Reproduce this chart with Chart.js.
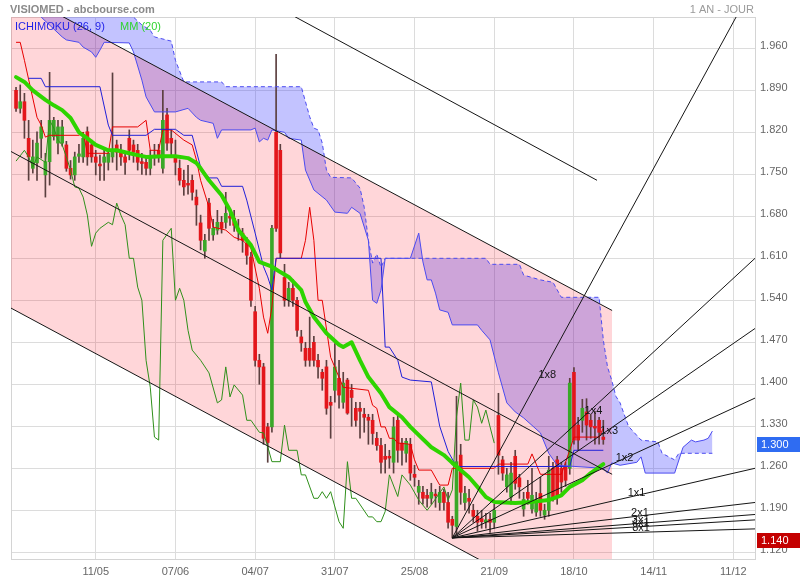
<!DOCTYPE html>
<html>
<head>
<meta charset="utf-8">
<title>VISIOMED - abcbourse.com</title>
<script src="https://cdn.jsdelivr.net/npm/chart.js@4.4.1/dist/chart.umd.min.js"></script>
<style>
  html, body { margin: 0; padding: 0; background: #fff; }
  #wrap { width: 800px; height: 580px; }
</style>
</head>
<body>
<div id="wrap"><canvas id="chart" width="800" height="580"></canvas></div>
<script>
// x unit = one trading day, bar 0 = 11/05
const FONT = '"Liberation Sans", Arial, sans-serif';
const X_MIN = -20.2;
const X_MAX = 157.16;
const Y_MIN = 1.1088;
const Y_MAX = 2.0122;
const FIRST_BAR = -19;

const xTickBars = [0, 19, 38, 57, 76, 95, 114, 133, 152];
const xTickLabels = ["11/05", "07/06", "04/07", "31/07", "25/08", "21/09", "18/10", "14/11", "11/12"];
const yTickValues = [1.12, 1.19, 1.26, 1.33, 1.40, 1.47, 1.54, 1.61, 1.68, 1.75, 1.82, 1.89, 1.96];

// daily candles, bar -19 .. 121
const opens = [
  1.890, 1.860, 1.871, 1.810, 1.760, 1.769, 1.810, 1.749, 1.771, 1.813,
  1.802, 1.802, 1.799, 1.760, 1.749, 1.780, 1.779, 1.821, 1.799, 1.779,
  1.767, 1.770, 1.770, 1.779, 1.799, 1.790, 1.779, 1.810, 1.799, 1.790,
  1.771, 1.770, 1.760, 1.778, 1.790, 1.760, 1.849, 1.810, 1.779, 1.760,
  1.740, 1.735, 1.740, 1.712, 1.669, 1.622, 1.702, 1.649, 1.657, 1.670,
  1.670, 1.680, 1.677, 1.660, 1.652, 1.635, 1.612, 1.521, 1.440, 1.429,
  1.329, 1.329, 1.820, 1.790, 1.578, 1.540, 1.560, 1.540, 1.479, 1.460,
  1.460, 1.470, 1.440, 1.420, 1.429, 1.370, 1.390, 1.410, 1.370, 1.407,
  1.390, 1.360, 1.360, 1.350, 1.345, 1.340, 1.310, 1.298, 1.280, 1.280,
  1.270, 1.340, 1.302, 1.285, 1.300, 1.250, 1.220, 1.220, 1.215, 1.210,
  1.217, 1.203, 1.220, 1.203, 1.175, 1.163, 1.282, 1.203, 1.210, 1.190,
  1.180, 1.176, 1.170, 1.175, 1.170, 1.348, 1.274, 1.229, 1.212, 1.280,
  1.244, 1.192, 1.220, 1.192, 1.187, 1.218, 1.182, 1.190, 1.260, 1.274,
  1.260, 1.262, 1.260, 1.420, 1.332, 1.340, 1.354, 1.340, 1.330, 1.340, 1.312,
];
const highs = [
  1.895, 1.899, 1.885, 1.840, 1.807, 1.821, 1.840, 1.785, 1.920, 1.845,
  1.840, 1.840, 1.805, 1.773, 1.787, 1.800, 1.820, 1.829, 1.807, 1.790,
  1.782, 1.790, 1.790, 1.919, 1.807, 1.800, 1.785, 1.824, 1.807, 1.800,
  1.785, 1.777, 1.790, 1.800, 1.800, 1.890, 1.860, 1.824, 1.807, 1.774,
  1.757, 1.765, 1.749, 1.724, 1.682, 1.650, 1.710, 1.675, 1.690, 1.680,
  1.720, 1.690, 1.690, 1.675, 1.660, 1.645, 1.620, 1.530, 1.450, 1.435,
  1.335, 1.665, 1.950, 1.800, 1.600, 1.570, 1.575, 1.545, 1.490, 1.470,
  1.512, 1.480, 1.450, 1.425, 1.440, 1.380, 1.468, 1.440, 1.420, 1.410,
  1.400, 1.370, 1.370, 1.360, 1.350, 1.350, 1.320, 1.310, 1.300, 1.290,
  1.345, 1.350, 1.310, 1.310, 1.310, 1.265, 1.240, 1.230, 1.225, 1.235,
  1.225, 1.230, 1.225, 1.220, 1.180, 1.380, 1.300, 1.230, 1.225, 1.200,
  1.190, 1.190, 1.185, 1.185, 1.200, 1.385, 1.280, 1.260, 1.270, 1.290,
  1.250, 1.220, 1.240, 1.260, 1.220, 1.245, 1.200, 1.280, 1.270, 1.280,
  1.270, 1.270, 1.410, 1.428, 1.345, 1.375, 1.376, 1.350, 1.355, 1.345, 1.340,
];
const lows = [
  1.855, 1.852, 1.810, 1.740, 1.752, 1.740, 1.777, 1.712, 1.732, 1.807,
  1.784, 1.797, 1.755, 1.742, 1.740, 1.770, 1.770, 1.765, 1.770, 1.749,
  1.740, 1.740, 1.757, 1.770, 1.757, 1.765, 1.750, 1.774, 1.770, 1.757,
  1.750, 1.749, 1.749, 1.765, 1.770, 1.752, 1.790, 1.782, 1.749, 1.732,
  1.715, 1.717, 1.707, 1.665, 1.624, 1.610, 1.640, 1.640, 1.650, 1.652,
  1.660, 1.665, 1.655, 1.640, 1.620, 1.600, 1.530, 1.430, 1.400, 1.300,
  1.270, 1.320, 1.655, 1.610, 1.530, 1.530, 1.530, 1.480, 1.455, 1.430,
  1.430, 1.430, 1.410, 1.390, 1.350, 1.310, 1.370, 1.360, 1.360, 1.350,
  1.330, 1.330, 1.310, 1.320, 1.300, 1.300, 1.290, 1.252, 1.252, 1.260,
  1.252, 1.270, 1.265, 1.270, 1.240, 1.230, 1.200, 1.200, 1.195, 1.200,
  1.195, 1.190, 1.190, 1.160, 1.144, 1.150, 1.200, 1.190, 1.185, 1.170,
  1.155, 1.160, 1.160, 1.153, 1.160, 1.250, 1.240, 1.220, 1.200, 1.225,
  1.210, 1.180, 1.200, 1.185, 1.180, 1.180, 1.175, 1.180, 1.205, 1.200,
  1.220, 1.230, 1.250, 1.300, 1.290, 1.320, 1.307, 1.310, 1.300, 1.300, 1.300,
];
const closes = [
  1.860, 1.871, 1.840, 1.779, 1.779, 1.802, 1.829, 1.771, 1.840, 1.840,
  1.829, 1.829, 1.760, 1.749, 1.779, 1.784, 1.810, 1.779, 1.779, 1.770,
  1.764, 1.779, 1.785, 1.790, 1.787, 1.779, 1.770, 1.790, 1.787, 1.770,
  1.768, 1.760, 1.779, 1.782, 1.779, 1.840, 1.802, 1.802, 1.770, 1.740,
  1.729, 1.732, 1.720, 1.699, 1.640, 1.640, 1.660, 1.660, 1.670, 1.660,
  1.685, 1.677, 1.665, 1.655, 1.640, 1.615, 1.540, 1.440, 1.429, 1.310,
  1.303, 1.660, 1.660, 1.619, 1.540, 1.560, 1.540, 1.490, 1.469, 1.440,
  1.440, 1.440, 1.429, 1.410, 1.360, 1.365, 1.429, 1.382, 1.402, 1.352,
  1.378, 1.340, 1.355, 1.345, 1.340, 1.318, 1.298, 1.270, 1.275, 1.277,
  1.329, 1.290, 1.290, 1.305, 1.252, 1.245, 1.230, 1.210, 1.210, 1.220,
  1.214, 1.220, 1.203, 1.170, 1.165, 1.271, 1.220, 1.218, 1.205, 1.180,
  1.170, 1.171, 1.174, 1.170, 1.190, 1.282, 1.252, 1.249, 1.252, 1.235,
  1.229, 1.208, 1.210, 1.215, 1.202, 1.190, 1.190, 1.257, 1.212, 1.212,
  1.237, 1.240, 1.402, 1.307, 1.307, 1.360, 1.332, 1.329, 1.327, 1.320, 1.308,
];

// indicator lines: [bar, price]
const mm20 = [
  [-19, 1.912], [-17, 1.904], [-15, 1.890], [-12, 1.874], [-10, 1.865], [-8, 1.857], [-6, 1.844],
  [-4, 1.820], [-2, 1.810], [0, 1.799], [3, 1.790], [5, 1.790], [8, 1.785], [10, 1.782], [12, 1.779],
  [16, 1.780], [19, 1.780], [22, 1.777], [24, 1.769], [25, 1.760], [27, 1.740], [30, 1.715],
  [32, 1.690], [34, 1.657], [37, 1.632], [39, 1.604], [42, 1.596], [44, 1.587], [46, 1.579],
  [49, 1.557], [50, 1.537], [52, 1.512], [55, 1.485], [58, 1.466], [59, 1.462], [61, 1.470],
  [63, 1.440], [65, 1.412], [68, 1.385], [70, 1.362], [73, 1.345], [75, 1.329], [80, 1.295],
  [83, 1.282], [85, 1.269], [89, 1.245], [91, 1.229], [93, 1.212], [95, 1.204], [100, 1.202],
  [104, 1.204], [108, 1.207], [111, 1.215], [113, 1.229], [116, 1.240], [118, 1.252], [121, 1.267],
];
const tenkan = [
  [-19, 1.970], [-18, 1.970], [-17, 1.940], [-14, 1.845], [-13, 1.832], [-12, 1.812], [-11, 1.815],
  [-4, 1.815], [-3, 1.820], [-2, 1.785], [3, 1.785], [4, 1.829], [10, 1.829], [12, 1.840],
  [13, 1.790], [15, 1.790], [16, 1.824], [18, 1.824], [21, 1.807], [23, 1.799], [24, 1.774],
  [25, 1.740], [27, 1.695], [28, 1.662], [31, 1.657], [33, 1.645], [35, 1.640], [37, 1.627],
  [39, 1.560], [40, 1.512], [41, 1.485], [42, 1.529], [43, 1.610], [49, 1.610], [50, 1.640],
  [51, 1.695], [52, 1.640], [53, 1.540], [54, 1.540], [56, 1.445], [59, 1.395], [65, 1.390],
  [66, 1.365], [67, 1.360], [68, 1.329], [69, 1.329], [70, 1.310], [71, 1.310], [72, 1.302],
  [75, 1.300], [76, 1.274], [77, 1.257], [80, 1.257], [82, 1.232], [84, 1.232], [85, 1.260],
  [95, 1.260], [96, 1.267], [103, 1.267], [104, 1.284], [106, 1.250], [111, 1.250], [113, 1.290],
  [114, 1.312], [120, 1.312], [121, 1.327],
];
const kijun = [
  [-16, 1.910], [-13, 1.910], [-12, 1.896], [1, 1.896], [3, 1.832], [4, 1.815], [12, 1.815],
  [14, 1.825], [19, 1.825], [21, 1.815], [23, 1.815], [25, 1.762], [27, 1.744], [29, 1.744],
  [30, 1.730], [35, 1.730], [36, 1.707], [38, 1.652], [40, 1.596], [41, 1.579], [42, 1.557],
  [43, 1.610], [68, 1.610], [69, 1.462], [70, 1.462], [72, 1.440], [73, 1.412], [75, 1.407],
  [80, 1.404], [82, 1.330], [84, 1.288], [86, 1.263], [113, 1.263], [114, 1.290], [121, 1.290],
];
const chikou = [
  [-19, 1.772], [-17, 1.790], [-16, 1.779], [-15, 1.762], [-14, 1.779], [-12, 1.770], [-11, 1.840],
  [-10, 1.827], [-9, 1.807], [-8, 1.799], [-7, 1.779], [-6, 1.757], [-5, 1.729], [-4, 1.727],
  [-3, 1.712], [-2, 1.682], [-1, 1.630], [0, 1.652], [1, 1.660], [3, 1.670], [4, 1.666],
  [5, 1.702], [6, 1.682], [7, 1.666], [8, 1.610], [9, 1.610], [10, 1.562], [11, 1.540],
  [12, 1.440], [13, 1.395], [14, 1.312], [15, 1.307], [16, 1.640], [18, 1.660], [19, 1.540],
  [20, 1.560], [21, 1.540], [22, 1.490], [23, 1.457], [25, 1.440], [27, 1.419], [29, 1.369],
  [30, 1.374], [31, 1.429], [32, 1.379], [33, 1.399], [35, 1.382], [36, 1.340], [37, 1.340],
  [39, 1.320], [40, 1.319], [41, 1.296], [42, 1.271], [44, 1.271], [45, 1.332], [46, 1.290],
  [48, 1.290], [49, 1.249], [50, 1.249], [52, 1.210], [53, 1.210], [54, 1.221], [55, 1.210],
  [56, 1.221], [58, 1.171], [59, 1.160], [60, 1.271], [61, 1.210], [62, 1.210], [65, 1.179],
  [66, 1.179], [67, 1.171], [68, 1.171], [69, 1.188], [70, 1.249], [72, 1.213], [73, 1.249],
  [75, 1.232], [77, 1.207], [79, 1.190], [80, 1.199], [83, 1.229], [84, 1.207], [85, 1.224],
  [86, 1.346], [87, 1.402], [88, 1.307], [89, 1.307], [90, 1.374], [91, 1.362], [92, 1.335],
  [93, 1.357], [94, 1.329], [95, 1.302],
];
const senkouA = [
  [-19, 2.060], [-13, 2.012], [-8, 1.979], [-7, 1.974], [-4, 1.970], [-3, 1.962], [-1, 1.954],
  [0, 1.945], [1, 1.957], [2, 1.970], [8, 1.969], [9, 1.954], [11, 1.907], [12, 1.879],
  [14, 1.854], [19, 1.854], [22, 1.860], [24, 1.845], [25, 1.840], [28, 1.835], [29, 1.810],
  [30, 1.824], [37, 1.824], [38, 1.827], [39, 1.804], [40, 1.810], [41, 1.807], [42, 1.824],
  [45, 1.820], [46, 1.810], [49, 1.807], [50, 1.757], [52, 1.724], [55, 1.707], [57, 1.687],
  [60, 1.685], [61, 1.695], [63, 1.685], [65, 1.640], [66, 1.540], [67, 1.535], [68, 1.557],
  [69, 1.610], [75, 1.610], [77, 1.652], [78, 1.604], [79, 1.574], [80, 1.574], [81, 1.552],
  [82, 1.524], [84, 1.520], [85, 1.499], [91, 1.499], [92, 1.490], [94, 1.474], [96, 1.419],
  [98, 1.369], [100, 1.354], [102, 1.344], [106, 1.319], [108, 1.285], [110, 1.265], [121, 1.260],
  [122, 1.252], [123, 1.269], [125, 1.265], [129, 1.270], [130, 1.279], [131, 1.252], [138, 1.252],
  [140, 1.295], [142, 1.307], [143, 1.304], [145, 1.307], [146, 1.310], [147, 1.322],
];
const senkouB = [
  [-19, 2.100], [8, 2.030], [9, 2.012], [11, 1.999], [13, 1.990], [14, 1.979], [18, 1.972],
  [19, 1.940], [21, 1.904], [30, 1.904], [31, 1.896], [49, 1.896], [51, 1.846], [52, 1.827],
  [53, 1.824], [54, 1.802], [55, 1.757], [56, 1.745], [61, 1.744], [63, 1.727], [64, 1.695],
  [65, 1.640], [66, 1.602], [67, 1.617], [68, 1.595], [69, 1.610], [93, 1.610], [94, 1.600],
  [101, 1.600], [102, 1.582], [106, 1.574], [109, 1.570], [111, 1.545], [120, 1.545], [121, 1.474],
  [122, 1.429], [123, 1.407], [124, 1.380], [125, 1.369], [127, 1.330], [130, 1.307], [134, 1.304],
  [135, 1.285], [138, 1.274], [139, 1.285], [147, 1.285],
];

// drawn objects: regression channel, parallel line, Gann fan
const chanBars = [-20.2, 123.1];
const chanUpper = [2.059, 1.523];
const chanMiddle = [1.788, 1.250];
const chanLower = [1.527, 0.989];
const topLineBars = [40, 119.5];
const topLinePrices = [2.041, 1.740];
const fanOrigin = [85, 1.144];
const fanEndBar = X_MAX;
const fanNames = ["1x8", "1x4", "1x3", "1x2", "1x1", "2x1", "3x1", "4x1", "8x1"];
const fanEnds = [2.070, 1.610, 1.493, 1.377, 1.260, 1.203, 1.183, 1.174, 1.159];

const badgeValues = [1.300, 1.140];
const badgeColors = ["#2f6cf2", "#c40000"];

const UP = "#3aa828";
const DOWN = "#e3161b";
const WICK = "#5b3f3f";
const INK = "#151515";

const pts = (pairs) => pairs.map(([x, y]) => ({ x, y }));
const seg = (xs, ys) => xs.map((x, k) => ({ x, y: ys[k] }));
const bar = (k) => FIRST_BAR + k;
const candleColors = opens.map((o, k) => (closes[k] >= o ? UP : DOWN));

const line = (data, color, width, order, extra) => ({
  type: "line", data, borderColor: color, borderWidth: width, pointRadius: 0,
  fill: false, tension: 0, order, ...extra,
});

const datasets = [
  // 0,1: cloud fill between senkou A and B
  line(pts(senkouA), "rgba(0,0,0,0)", 0, 100, { fill: 1, backgroundColor: "rgba(55,55,255,0.30)" }),
  line(pts(senkouB), "rgba(0,0,0,0)", 0, 99),
  // 2,3: channel fill
  line(seg(chanBars, chanUpper), "rgba(0,0,0,0)", 0, 98, { fill: 3, backgroundColor: "rgba(255,0,20,0.16)" }),
  line(seg(chanBars, chanLower), "rgba(0,0,0,0)", 0, 97),
  {
    type: "bar", order: 80, grouped: false, barThickness: 1,
    data: opens.map((o, k) => ({ x: bar(k), y: [lows[k], highs[k]] })),
    backgroundColor: WICK,
  },
  {
    type: "bar", order: 79, grouped: false, barThickness: 3,
    data: opens.map((o, k) => ({ x: bar(k), y: [o, closes[k]] })),
    backgroundColor: candleColors,
  },
  line(pts(chikou), "#2f8f1a", 1, 70),
  line(pts(tenkan), "#e60000", 1, 69),
  line(pts(kijun), "#2020d8", 1, 68),
  line(pts(senkouA), "#4b4bf0", 1, 67),
  line(pts(senkouB), "#4b4bf0", 1, 66, { borderDash: [4, 3] }),
  line(pts(mm20), "#2ed400", 4, 60, { borderJoinStyle: "round", borderCapStyle: "round" }),
  line(seg(chanBars, chanUpper), INK, 1, 50),
  line(seg(chanBars, chanMiddle), INK, 1, 50),
  line(seg(chanBars, chanLower), INK, 1, 50),
  line(seg(topLineBars, topLinePrices), INK, 1, 50),
  ...fanEnds.map((p) => line([{ x: fanOrigin[0], y: fanOrigin[1] }, { x: fanEndBar, y: p }], INK, 1, 50)),
];

const framePlugin = {
  id: "frame",
  beforeDatasetsDraw(chart) {
    const { ctx, chartArea: a } = chart;
    ctx.save();
    ctx.strokeStyle = "#d4d4d4";
    ctx.lineWidth = 1;
    ctx.strokeRect(a.left + 0.5, a.top + 0.5, a.right - a.left, a.bottom - a.top);
    ctx.restore();
  },
};

const fanLabelPlugin = {
  id: "fanLabels",
  afterDatasetsDraw(chart) {
    const { ctx, scales: { x, y } } = chart;
    const x0 = x.getPixelForValue(fanOrigin[0]);
    const y0 = y.getPixelForValue(fanOrigin[1]);
    ctx.save();
    ctx.font = `11px ${FONT}`;
    ctx.fillStyle = INK;
    ctx.textAlign = "left";
    ctx.textBaseline = "bottom";
    fanNames.forEach((name, k) => {
      const dx = x.getPixelForValue(fanEndBar) - x0;
      const dy = y.getPixelForValue(fanEnds[k]) - y0;
      const len = Math.hypot(dx, dy);
      ctx.fillText(name, x0 + (dx / len) * 180, y0 + (dy / len) * 180 + 1);
    });
    ctx.restore();
  },
};

const textPlugin = {
  id: "texts",
  afterDraw(chart) {
    const { ctx, scales: { y } } = chart;
    ctx.save();
    ctx.textBaseline = "alphabetic";
    ctx.font = `bold 11px ${FONT}`;
    ctx.fillStyle = "#8a8a8a";
    ctx.textAlign = "left";
    ctx.fillText("VISIOMED - abcbourse.com", 10, 13);
    ctx.font = `11px ${FONT}`;
    ctx.fillStyle = "#9a9a9a";
    ctx.textAlign = "right";
    ctx.fillText("1 AN - JOUR", 754, 13);
    ctx.textAlign = "left";
    ctx.fillStyle = "#1f1fe8";
    ctx.fillText("ICHIMOKU (26, 9)", 15, 30);
    ctx.fillStyle = "#2fd42f";
    ctx.fillText("MM (20)", 120, 30);
    badgeValues.forEach((v, k) => {
      const py = Math.round(y.getPixelForValue(v));
      ctx.fillStyle = badgeColors[k];
      ctx.fillRect(757, py - 7, 43, 15);
      ctx.fillStyle = "#fff";
      ctx.textBaseline = "middle";
      ctx.fillText(v.toFixed(3), 761, py + 1);
    });
    ctx.restore();
  },
};

new Chart(document.getElementById("chart"), {
  type: "line",
  data: { datasets },
  options: {
    responsive: false,
    animation: false,
    events: [],
    layout: { padding: { left: 11, top: 17, right: 0, bottom: 0 } },
    plugins: { legend: { display: false }, tooltip: { enabled: false } },
    scales: {
      x: {
        type: "linear", min: X_MIN, max: X_MAX, offset: false, bounds: "data",
        grid: { color: "#dcdcdc", drawTicks: false, offset: false },
        border: { display: false },
        afterBuildTicks: (axis) => { axis.ticks = xTickBars.map((v) => ({ value: v })); },
        afterFit: (axis) => { axis.height = 21; },
        ticks: {
          padding: 6, color: "#666", autoSkip: false, maxRotation: 0,
          font: { size: 11, family: FONT },
          callback: (v, i) => xTickLabels[i],
        },
      },
      y: {
        type: "linear", position: "right", min: Y_MIN, max: Y_MAX, bounds: "data",
        grid: { color: "#dcdcdc", drawTicks: false },
        border: { display: false },
        afterBuildTicks: (axis) => { axis.ticks = yTickValues.map((v) => ({ value: v })); },
        afterFit: (axis) => { axis.width = 45; },
        ticks: {
          padding: 5, color: "#666", labelOffset: -2,
          font: { size: 11, family: FONT },
          callback: (v) => v.toFixed(3),
        },
      },
    },
  },
  plugins: [framePlugin, fanLabelPlugin, textPlugin],
});
</script>
</body>
</html>
